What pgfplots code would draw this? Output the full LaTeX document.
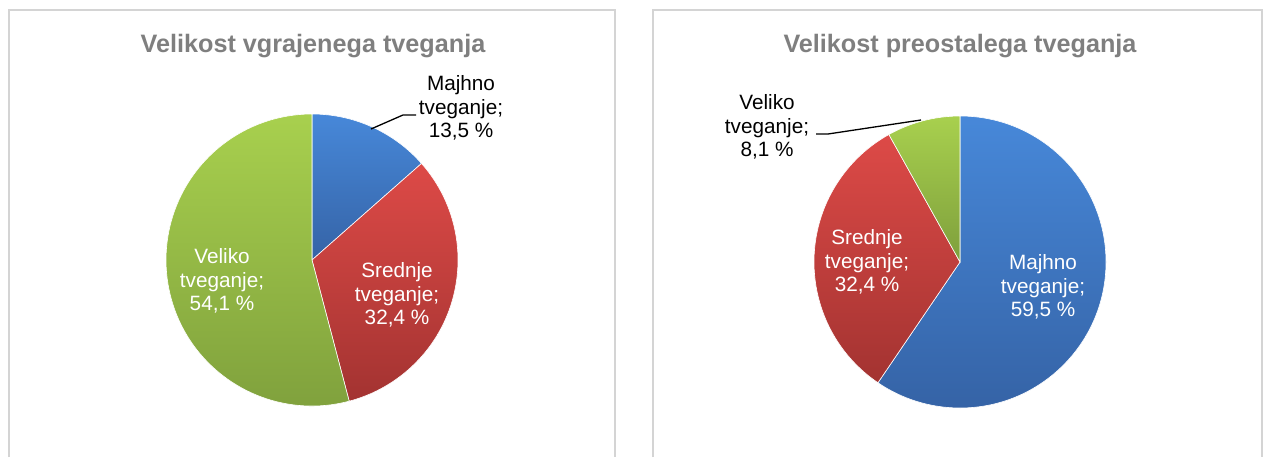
\documentclass[border=0pt]{standalone}
\usepackage{pgfplots}
\pgfplotsset{compat=1.18}
\usepackage{pgfplotstable}
\usepackage{fontspec}
\setmainfont{Liberation Sans}

\definecolor{blueT}{HTML}{4788D9}
\definecolor{blueB}{HTML}{3563A6}
\definecolor{redT}{HTML}{DD4A47}
\definecolor{redB}{HTML}{A33331}
\definecolor{greenT}{HTML}{A8D04E}
\definecolor{greenB}{HTML}{7E9F3C}
\definecolor{titlegray}{HTML}{7F7F7F}
\definecolor{framegray}{HTML}{D4D4D4}

% Left chart: inherent risk; right chart: residual risk (percent)
\pgfplotstableread{
cat value
Majhno 13.5
Srednje 32.4
Veliko 54.1
}\inherent
\pgfplotstableread{
cat value
Majhno 59.5
Srednje 32.4
Veliko 8.1
}\residual

\pgfplotstablegetelem{0}{value}\of\inherent \let\IA\pgfplotsretval
\pgfplotstablegetelem{1}{value}\of\inherent \let\IB\pgfplotsretval
\pgfplotstablegetelem{2}{value}\of\inherent \let\IC\pgfplotsretval
\pgfplotstablegetelem{0}{value}\of\residual \let\RA\pgfplotsretval
\pgfplotstablegetelem{1}{value}\of\residual \let\RB\pgfplotsretval
\pgfplotstablegetelem{2}{value}\of\residual \let\RC\pgfplotsretval

\pgfmathsetmacro\IAd{-\IA*3.6}
\pgfmathsetmacro\IBd{-\IB*3.6}
\pgfmathsetmacro\ICd{-\IC*3.6}
\pgfmathsetmacro\IBs{90+\IAd}
\pgfmathsetmacro\ICs{\IBs+\IBd}
\pgfmathsetmacro\RAd{-\RA*3.6}
\pgfmathsetmacro\RBd{-\RB*3.6}
\pgfmathsetmacro\RCd{-\RC*3.6}
\pgfmathsetmacro\RBs{90+\RAd}
\pgfmathsetmacro\RCs{\RBs+\RBd}

\newcommand\slice[6]{%
  \shade[top color=#5,bottom color=#6,draw=white,line width=0.6bp]
    (axis cs:#1,#2) -- ++(#3:146bp) arc[start angle=#3,delta angle=#4,radius=146bp] -- cycle;}

\begin{document}
\begin{tikzpicture}
\begin{axis}[
  width=1266bp, height=457bp, scale only axis,
  xmin=0, xmax=1266, ymin=0, ymax=457, y dir=reverse,
  hide axis, clip=false,
]
\path (axis cs:0,0) rectangle (axis cs:1266,457);
% panel frames
\draw[framegray,line width=2bp] (axis cs:8.5,457) -- (axis cs:8.5,10.5) -- (axis cs:614.5,10.5) -- (axis cs:614.5,457);
\draw[framegray,line width=2bp] (axis cs:652.5,457) -- (axis cs:652.5,10.5) -- (axis cs:1261.5,10.5) -- (axis cs:1261.5,457);
% titles
\node[titlegray,font=\bfseries\fontsize{25.3}{30}\selectfont] at (axis cs:313,46) {Velikost vgrajenega tveganja};
\node[titlegray,font=\bfseries\fontsize{25.3}{30}\selectfont] at (axis cs:960,46) {Velikost preostalega tveganja};
% left pie
\slice{312}{260}{90}{\IAd}{blueT}{blueB}
\slice{312}{260}{\IBs}{\IBd}{redT}{redB}
\slice{312}{260}{\ICs}{\ICd}{greenT}{greenB}
% right pie
\slice{960}{262}{90}{\RAd}{blueT}{blueB}
\slice{960}{262}{\RBs}{\RBd}{redT}{redB}
\slice{960}{262}{\RCs}{\RCd}{greenT}{greenB}
% labels left
\tikzset{lab/.style={align=center,font=\fontsize{20.8}{23.5}\selectfont,inner sep=0pt}}
\node[lab,black] at (axis cs:461,108) {Majhno\\tveganje;\\13,5 \%};
\draw[black,line width=1.3bp] (axis cs:371,129) -- (axis cs:403,115) -- (axis cs:416,115);
\node[lab,white] at (axis cs:397,295) {Srednje\\tveganje;\\32,4 \%};
\node[lab,white] at (axis cs:222,281) {Veliko\\tveganje;\\54,1 \%};
% labels right
\node[lab,black] at (axis cs:767,127) {Veliko\\tveganje;\\8,1 \%};
\draw[black,line width=1.3bp] (axis cs:816,134) -- (axis cs:828,134) -- (axis cs:921,120);
\node[lab,white] at (axis cs:867,262) {Srednje\\tveganje;\\32,4 \%};
\node[lab,white] at (axis cs:1043,287) {Majhno\\tveganje;\\59,5 \%};
\end{axis}
\end{tikzpicture}
\end{document}
